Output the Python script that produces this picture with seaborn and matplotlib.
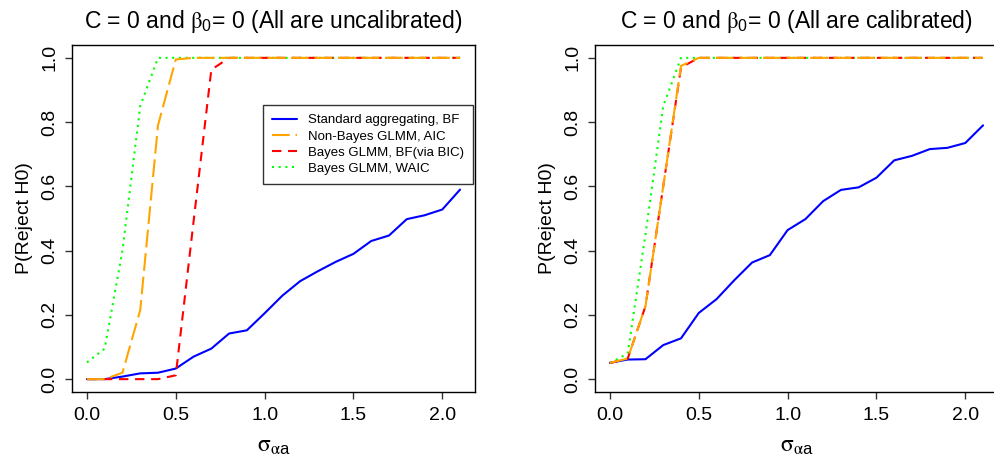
import numpy as np
import pandas as pd
import matplotlib
matplotlib.use("Agg")
import matplotlib.pyplot as plt
import seaborn as sns
from matplotlib.lines import Line2D

sigma = [0.0, 0.1, 0.2, 0.3, 0.4, 0.5, 0.6, 0.7, 0.8, 0.9, 1.0,
         1.1, 1.2, 1.3, 1.4, 1.5, 1.6, 1.7, 1.8, 1.9, 2.0, 2.1]

# left panel: uncalibrated
unc_std = [0.0, 0.0, 0.008, 0.018, 0.02, 0.033, 0.07, 0.095, 0.142, 0.152, 0.205,
           0.26, 0.305, 0.336, 0.365, 0.39, 0.43, 0.447, 0.498, 0.51, 0.528, 0.59]
unc_aic = [0.0, 0.0, 0.02, 0.215, 0.79, 0.995, 1.0, 1.0, 1.0, 1.0, 1.0,
           1.0, 1.0, 1.0, 1.0, 1.0, 1.0, 1.0, 1.0, 1.0, 1.0, 1.0]
unc_bic = [0.0, 0.0, 0.0, 0.0, 0.0, 0.012, 0.49, 0.963, 1.0, 1.0, 1.0,
           1.0, 1.0, 1.0, 1.0, 1.0, 1.0, 1.0, 1.0, 1.0, 1.0, 1.0]
unc_waic = [0.052, 0.095, 0.40, 0.85, 1.0, 1.0, 1.0, 1.0, 1.0, 1.0, 1.0,
            1.0, 1.0, 1.0, 1.0, 1.0, 1.0, 1.0, 1.0, 1.0, 1.0, 1.0]

# right panel: calibrated
cal_std = [0.051, 0.061, 0.062, 0.106, 0.127, 0.206, 0.249, 0.308, 0.363, 0.386, 0.464,
           0.498, 0.554, 0.589, 0.597, 0.627, 0.681, 0.695, 0.716, 0.72, 0.735, 0.79]
cal_aic = [0.051, 0.064, 0.227, 0.60, 0.975, 1.0, 1.0, 1.0, 1.0, 1.0, 1.0,
           1.0, 1.0, 1.0, 1.0, 1.0, 1.0, 1.0, 1.0, 1.0, 1.0, 1.0]
cal_bic = [0.05, 0.064, 0.227, 0.60, 0.97, 1.0, 1.0, 1.0, 1.0, 1.0, 1.0,
           1.0, 1.0, 1.0, 1.0, 1.0, 1.0, 1.0, 1.0, 1.0, 1.0, 1.0]
cal_waic = [0.05, 0.08, 0.45, 0.85, 1.0, 1.0, 1.0, 1.0, 1.0, 1.0, 1.0,
            1.0, 1.0, 1.0, 1.0, 1.0, 1.0, 1.0, 1.0, 1.0, 1.0, 1.0]

labels = ["Standard aggregating, BF", "Non-Bayes GLMM, AIC",
          "Bayes GLMM, BF(via BIC)", "Bayes GLMM, WAIC"]
titles = [r"C = 0 and $\mathrm{\beta}_{\mathsf{0}}$= 0 (All are uncalibrated)",
          r"C = 0 and $\mathrm{\beta}_{\mathsf{0}}$= 0 (All are calibrated)"]

sns.set_theme(style="ticks")
plt.rcParams["font.family"] = ["Liberation Sans", "DejaVu Sans"]
plt.rcParams["mathtext.fontset"] = "custom"
plt.rcParams["mathtext.rm"] = "STIXGeneral"
plt.rcParams["mathtext.it"] = "STIXGeneral:italic"
plt.rcParams["mathtext.sf"] = "Liberation Sans"
for key in ["text.color", "axes.labelcolor", "xtick.color", "ytick.color",
            "axes.edgecolor"]:
    plt.rcParams[key] = "black"

colors = ["#0000FF", "#FFA500", "#FF0000", "#00FF00"]
styles = ["-", (0, (8.5, 2.8)), (0, (4.5, 3.2)), (0, (1.0, 2.2))]
lw = 1.5

fig = plt.figure(figsize=(9.95, 4.59), dpi=100)
W, H = 995.0, 459.0
ax1 = fig.add_axes([72 / W, (H - 392) / H, 403 / W, 347 / H])
ax2 = fig.add_axes([595 / W, (H - 392) / H, 403 / W, 347 / H])

panels = [(ax1, [unc_std, unc_aic, unc_bic, unc_waic], titles[0]),
          (ax2, [cal_std, cal_aic, cal_bic, cal_waic], titles[1])]

draw_order = [0, 3, 2, 1]
for ax, series, title in panels:
    for i in draw_order:
        df = pd.DataFrame({"x": sigma, "y": series[i]})
        sns.lineplot(data=df, x="x", y="y", ax=ax, color=colors[i],
                     linestyle=styles[i], linewidth=lw, legend=False)
    ax.set_xlim(-0.084, 2.184)
    ax.set_ylim(-0.04, 1.04)
    ax.set_xticks([0.0, 0.5, 1.0, 1.5, 2.0])
    ax.set_xticklabels(["0.0", "0.5", "1.0", "1.5", "2.0"])
    ax.set_yticks([0.0, 0.2, 0.4, 0.6, 0.8, 1.0])
    ax.set_yticklabels(["0.0", "0.2", "0.4", "0.6", "0.8", "1.0"],
                       rotation=90, va="center")
    ax.tick_params(axis="both", direction="out", length=5, width=1,
                   labelsize=14, color="#333333", labelcolor="black", pad=6)
    ax.tick_params(axis="y", pad=5)
    for sp in ax.spines.values():
        sp.set_visible(True)
        sp.set_linewidth(1.0)
        sp.set_color("black")
    ax.set_xlabel(r"$\mathrm{\sigma}_{\mathrm{\alpha}\mathsf{a}}$", fontsize=17,
                  labelpad=8)
    ax.set_ylabel("P(Reject H0)", fontsize=14, labelpad=6)
    ax.set_title(title, fontsize=16.5, pad=12)
    ax.grid(False)

handles = [Line2D([0], [0], color=colors[i], linestyle=styles[i], linewidth=lw)
           for i in range(4)]
leg = ax1.legend(handles, labels, loc="upper right",
                 bbox_to_anchor=(1.0 - 2 / 403, 1 - 60 / 347),
                 fontsize=9.5, frameon=True, fancybox=False, handlelength=1.9,
                 handletextpad=0.8, borderpad=0.7, labelspacing=0.3,
                 borderaxespad=0)
leg.get_frame().set_edgecolor("black")
leg.get_frame().set_linewidth(1.0)

fig.savefig("out.png", dpi=100)
